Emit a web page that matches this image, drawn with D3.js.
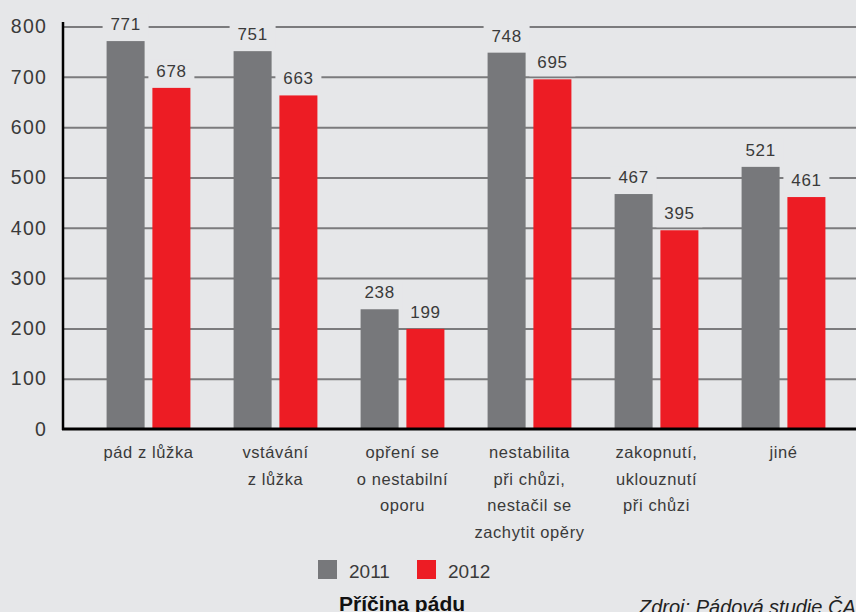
<!DOCTYPE html>
<html>
<head>
<meta charset="utf-8">
<script src="https://cdn.jsdelivr.net/npm/d3@7"></script>
<style>
  html, body { margin: 0; padding: 0; background: #e6e7e9; }
  svg { display: block; font-family: 'Liberation Sans', Arial, sans-serif; }
</style>
</head>
<body>
<div id="chart"><svg></svg></div>
<script>
// categories (multi-line labels) and values per year
const categories = [
  ['pád z lůžka'],
  ['vstávání', 'z lůžka'],
  ['opření se', 'o nestabilní', 'oporu'],
  ['nestabilita', 'při chůzi,', 'nestačil se', 'zachytit opěry'],
  ['zakopnutí,', 'uklouznutí', 'při chůzi'],
  ['jiné']
]
const years = ['2011', '2012']
const values2011 = [771, 751, 238, 748, 467, 521]
const values2012 = [678, 663, 199, 695, 395, 461]
const yTicks = [0, 100, 200, 300, 400, 500, 600, 700, 800]
const colors = { 2011: '#77787b', 2012: '#ed1c24' }

const width = 856
const height = 612
const axisX = 63
const baseY = 429
const textColor = '#3a3a3a'

const svg = d3.select('#chart svg')
  .attr('width', width)
  .attr('height', height)

svg.append('rect')
  .attr('width', width)
  .attr('height', height)
  .attr('fill', '#e6e7e9')

const keys = categories.map((c, i) => 'c' + i)

const x0 = d3.scaleBand()
  .domain(keys)
  .range([85, 847])
  .paddingInner(0.34)
  .paddingOuter(0.17)

const x1 = d3.scaleBand()
  .domain(years)
  .range([0, x0.bandwidth()])
  .paddingInner(0.17)

const y = d3.scaleLinear()
  .domain([0, 800])
  .range([baseY, 26.5])

// gridlines
const grid = svg.append('g')
  .attr('transform', `translate(${axisX},0)`)
  .call(d3.axisLeft(y).tickValues(yTicks.slice(1)).tickSize(-(width - axisX)).tickFormat(''))
grid.select('.domain').remove()
grid.selectAll('line')
  .attr('stroke', '#7b7b7d')
  .attr('stroke-width', 2)

// tick labels
const yAxis = svg.append('g')
  .attr('transform', `translate(${axisX},0)`)
  .call(d3.axisLeft(y).tickValues(yTicks).tickSize(0).tickPadding(16))
yAxis.select('.domain').remove()
yAxis.selectAll('text')
  .attr('font-size', 19.5)
  .attr('letter-spacing', 1.2)
  .attr('fill', textColor)
  .attr('font-family', "'Liberation Sans', Arial, sans-serif")

// data rows
const rows = keys.map((k, i) => ({ key: k, values: [
  { year: '2011', value: values2011[i] },
  { year: '2012', value: values2012[i] }
] }))

const groups = svg.append('g')
  .selectAll('g')
  .data(rows)
  .join('g')
  .attr('transform', d => `translate(${x0(d.key)},0)`)

groups.selectAll('rect.bar')
  .data(d => d.values)
  .join('rect')
  .attr('class', 'bar')
  .attr('x', d => x1(d.year))
  .attr('y', d => y(d.value))
  .attr('width', x1.bandwidth())
  .attr('height', d => baseY - y(d.value))
  .attr('fill', d => colors[d.year])

// value labels with background patches that break the gridlines
const labels = groups.selectAll('g.val')
  .data(d => d.values)
  .join('g')
  .attr('class', 'val')
  .attr('transform', d => `translate(${x1(d.year) + x1.bandwidth() / 2},${y(d.value) - 11})`)

labels.append('rect')
  .attr('x', -23)
  .attr('y', -17)
  .attr('width', 46)
  .attr('height', 25)
  .attr('fill', '#e6e7e9')

labels.append('text')
  .attr('text-anchor', 'middle')
  .attr('font-size', 17)
  .attr('letter-spacing', 0.6)
  .attr('fill', textColor)
  .text(d => d.value)

// axis lines
svg.append('line')
  .attr('x1', axisX).attr('x2', axisX)
  .attr('y1', 22).attr('y2', baseY + 1)
  .attr('stroke', '#000')
  .attr('stroke-width', 2.5)

svg.append('line')
  .attr('x1', axisX - 1).attr('x2', width)
  .attr('y1', baseY).attr('y2', baseY)
  .attr('stroke', '#000')
  .attr('stroke-width', 3)

// category labels
const catText = svg.append('g')
  .selectAll('text')
  .data(categories)
  .join('text')
  .attr('x', (d, i) => x0(keys[i]) + x0.bandwidth() / 2)
  .attr('y', 458)
  .attr('text-anchor', 'middle')
  .attr('font-size', 16.5)
  .attr('letter-spacing', 0.6)
  .attr('fill', textColor)

catText.selectAll('tspan')
  .data(d => d)
  .join('tspan')
  .attr('x', function () { return d3.select(this.parentNode).attr('x') })
  .attr('dy', (d, i) => i === 0 ? 0 : 26.5)
  .text(d => d)

// legend
const legend = svg.append('g')
  .selectAll('g')
  .data(years)
  .join('g')
  .attr('transform', (d, i) => `translate(${318 + i * 99},560)`)

legend.append('rect')
  .attr('width', 19)
  .attr('height', 19)
  .attr('fill', d => colors[d])

legend.append('text')
  .attr('x', 31)
  .attr('y', 18)
  .attr('font-size', 19)
  .attr('fill', textColor)
  .text(d => d)

// axis title and source
svg.append('text')
  .attr('x', 339)
  .attr('y', 611)
  .attr('font-size', 21)
  .attr('font-weight', 'bold')
  .attr('fill', '#111')
  .text('Příčina pádu')

svg.append('text')
  .attr('x', 639)
  .attr('y', 614)
  .attr('font-size', 20)
  .attr('font-style', 'italic')
  .attr('fill', '#222')
  .text('Zdroj: Pádová studie ČAS')
</script>
</body>
</html>
